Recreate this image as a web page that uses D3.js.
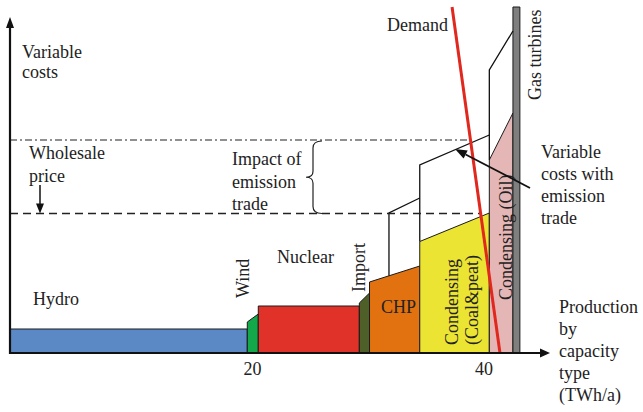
<!DOCTYPE html>
<html>
<head>
<meta charset="utf-8">
<script src="https://cdn.jsdelivr.net/npm/d3@7"></script>
<style>
html,body{margin:0;padding:0;background:#fff;}
svg{display:block;}
text{font-family:"Liberation Serif","Times New Roman",serif;font-size:18px;fill:#222;}
</style>
</head>
<body>
<svg id="chart" width="643" height="412"></svg>
<script>
// ---- data ----
const categories = ["Hydro","Wind","Nuclear","Import","CHP","Condensing (Coal&peat)","Condensing (Oil)","Gas turbines"];
const capStart   = [-0.95, 19.55, 20.5, 29.23, 30.11, 34.45, 40.46, 42.5];   // TWh/a
const capEnd     = [19.55, 20.5, 29.23, 30.11, 34.45, 40.46, 42.5, 43.1];
const costLeft   = [24, 31, 47, 50, 71, 111.5, 193, 346];                  // variable cost (arb. units)
const costRight  = [24, 39, 47, 60, 87, 140, 240, 346];
const colors     = ["#5b89c6","#13a84a","#e1322a","#4e6028","#e2720f","#ece432","#e5b6b6","#7f7f7f"];
// variable costs with emission trade (outline segments: [capacity, cost])
const emissionLines = [
  [[31.79, null],[31.79,140],[34.45,155]],
  [[34.45,111.5],[34.45,188],[40.46,218]],
  [[40.46,193],[40.46,283],[42.5,322]]
];
const priceWithEmission = 213;
const priceWithout = 139.5;
const demandCap  = [37.24, 41.38];
const demandCost = [346, 0];
const xTicks = [20, 40];

// ---- scales ----
const svg = d3.select("#chart");
const x = d3.scaleLinear().domain([0, 40]).range([21, 484]);
const y = d3.scaleLinear().domain([0, 346]).range([353, 7]);
const x0 = x(capStart[0]), y0 = y(0);

// ---- blocks ----
const blocks = categories.map((c,i)=>({c, s:capStart[i], e:capEnd[i], l:costLeft[i], r:costRight[i], col:colors[i]}));
svg.append("g").selectAll("path").data(blocks).join("path")
  .attr("d", d => `M${x(d.s)},${y(0)}L${x(d.s)},${y(d.l)}L${x(d.e)},${y(d.r)}L${x(d.e)},${y(0)}Z`)
  .attr("fill", d => d.col)
  .attr("stroke", "#1a1a1a")
  .attr("stroke-width", 1);

// interpolate top of a block
function topAt(cap){
  const b = blocks.find(d => cap >= d.s && cap <= d.e);
  return b.l + (b.r - b.l) * (cap - b.s) / (b.e - b.s);
}
emissionLines[0][0][1] = topAt(emissionLines[0][0][0]);

const line = d3.line().x(d=>x(d[0])).y(d=>y(d[1]));
svg.append("g").selectAll("path").data(emissionLines).join("path")
  .attr("d", line).attr("fill","none").attr("stroke","#111").attr("stroke-width",1.3);

// demand line & intersections
const dSlope = (demandCap[1]-demandCap[0])/(demandCost[1]-demandCost[0]);
const demandAt = cost => demandCap[0] + (cost - demandCost[0]) * dSlope;

svg.append("line")
  .attr("x1", x0).attr("x2", x(demandAt(priceWithEmission)))
  .attr("y1", y(priceWithEmission)).attr("y2", y(priceWithEmission))
  .attr("stroke","#222").attr("stroke-width",1.2).attr("stroke-dasharray","7,3,2,3");
svg.append("line")
  .attr("x1", x0).attr("x2", x(demandAt(priceWithout)))
  .attr("y1", y(priceWithout)).attr("y2", y(priceWithout))
  .attr("stroke","#222").attr("stroke-width",1.5).attr("stroke-dasharray","8,5");

svg.append("line")
  .attr("x1", x(demandCap[0])).attr("y1", y(demandCost[0]))
  .attr("x2", x(demandCap[1])).attr("y2", y(demandCost[1]))
  .attr("stroke","#e0281e").attr("stroke-width",3);

// ---- axes ----
const xEnd = 550, yTop = 17;
svg.append("line").attr("x1",x0).attr("y1",y0).attr("x2",xEnd-8).attr("y2",y0).attr("stroke","#111").attr("stroke-width",2);
svg.append("path").attr("d",`M${xEnd},${y0}L${xEnd-10},${y0-4.5}L${xEnd-10},${y0+4.5}Z`).attr("fill","#111");
svg.append("line").attr("x1",x0).attr("y1",y0+1).attr("x2",x0).attr("y2",yTop+8).attr("stroke","#111").attr("stroke-width",2.2);
svg.append("path").attr("d",`M${x0},${yTop}L${x0-4},${yTop+11}L${x0+4},${yTop+11}Z`).attr("fill","#111");

svg.append("g").selectAll("text").data(xTicks).join("text")
  .attr("x", d=>x(d)).attr("y", 375).attr("text-anchor","middle").text(d=>d);

// ---- labels ----
function multi(lines, xx, yy, dy){
  const t = svg.append("text").attr("x",xx).attr("y",yy);
  lines.forEach((s,i)=>t.append("tspan").attr("x",xx).attr("y",yy+i*dy).text(s));
}
multi(["Variable","costs"], 22, 58, 20);
multi(["Wholesale","price"], 29, 159, 22.5);
multi(["Impact of","emission","trade"], 232, 165, 22.5);
multi(["Variable","costs with","emission","trade"], 541, 158, 22);
multi(["Production","by","capacity","type","(TWh/a)"], 559, 313, 22);
svg.append("text").attr("x",448).attr("y",31).attr("text-anchor","end").text("Demand");
svg.append("text").attr("x",33).attr("y",305).text("Hydro");
svg.append("text").attr("x",277).attr("y",263).text("Nuclear");
svg.append("text").attr("x",381).attr("y",313).text("CHP");

function vtext(s, xx, yy){
  svg.append("text").attr("transform",`translate(${xx},${yy}) rotate(-90)`).text(s);
}
vtext("Wind", 248.5, 298);
vtext("Import", 365, 292);
vtext("Condensing", 458, 345);
vtext("(Coal&peat)", 478, 345);
vtext("Condensing (Oil)", 512, 300);
vtext("Gas turbines", 541, 100);

// wholesale price arrow
const ay = y(priceWithout);
svg.append("line").attr("x1",40).attr("y1",185).attr("x2",40).attr("y2",ay-8).attr("stroke","#111").attr("stroke-width",1.5);
svg.append("path").attr("d",`M40,${ay}L36,${ay-10}L44,${ay-10}Z`).attr("fill","#111");

// brace
const bt = y(priceWithEmission)+1, bb = y(priceWithout), bm = (bt+bb)/2, bx = 313;
svg.append("path")
  .attr("d",`M${bx+9},${bt}Q${bx},${bt} ${bx},${bt+7}L${bx},${bm-6}Q${bx},${bm} ${bx-7},${bm}Q${bx},${bm} ${bx},${bm+6}L${bx},${bb-7}Q${bx},${bb} ${bx+9},${bb}`)
  .attr("fill","none").attr("stroke","#222").attr("stroke-width",1.2);

// emission arrow
const tx = 455, ty = 149, fx = 530, fy = 188;
const ang = Math.atan2(fy-ty, fx-tx);
const hl = 12, hw = 4.5;
const bxp = tx + hl*Math.cos(ang), byp = ty + hl*Math.sin(ang);
svg.append("line").attr("x1",fx).attr("y1",fy).attr("x2",bxp).attr("y2",byp).attr("stroke","#111").attr("stroke-width",1.8);
svg.append("path").attr("d",`M${tx},${ty}L${bxp - hw*Math.sin(ang)},${byp + hw*Math.cos(ang)}L${bxp + hw*Math.sin(ang)},${byp - hw*Math.cos(ang)}Z`).attr("fill","#111");
</script>
</body>
</html>
